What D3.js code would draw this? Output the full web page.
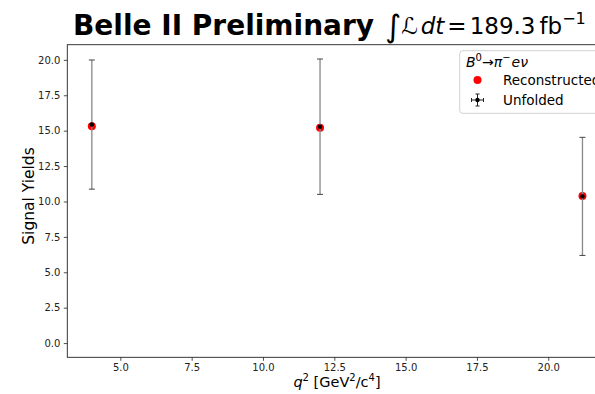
<!DOCTYPE html>
<html>
<head>
<meta charset="utf-8">
<script src="https://cdn.jsdelivr.net/npm/d3@7"></script>
<style>
  body { margin: 0; background: #fff; }
  svg { display: block; font-family: "DejaVu Sans", sans-serif; }
</style>
</head>
<body>
<svg id="chart" width="595" height="394"></svg>
<script>
// q^2 bin centres [GeV^2/c^4]
const q2Bins = [4.0, 12.0, 21.2];
// Reconstructed signal yields
const reconstructed = [15.31, 15.21, 10.38];
// Unfolded signal yields and their uncertainties
const unfolded = [15.43, 15.28, 10.36];
const unfoldedErr = [4.56, 4.78, 4.17];

const xTicks = [5.0, 7.5, 10.0, 12.5, 15.0, 17.5, 20.0];
const yTicks = [0.0, 2.5, 5.0, 7.5, 10.0, 12.5, 15.0, 17.5, 20.0];

const svg = d3.select("#chart");
const m = { left: 67.3, top: 44.7, right: 607, bottom: 357.3 };

const x = d3.scaleLinear().domain([3.14, 22.06]).range([m.left, m.right]);
const y = d3.scaleLinear().domain([-1.0035, 21.07]).range([m.bottom, m.top]);

// clip to the axes area
svg.append("defs").append("clipPath").attr("id", "plotclip")
  .append("rect").attr("x", m.left).attr("y", m.top)
  .attr("width", m.right - m.left).attr("height", m.bottom - m.top);

// axes
const xAxis = d3.axisBottom(x).tickValues(xTicks).tickFormat(d3.format(".1f"))
  .tickSizeOuter(0).tickSize(3.5).tickPadding(3.5);
const yAxis = d3.axisLeft(y).tickValues(yTicks).tickFormat(d3.format(".1f"))
  .tickSizeOuter(0).tickSize(3.5).tickPadding(3.5);

const gx = svg.append("g").attr("transform", `translate(0,${m.bottom})`).call(xAxis);
const gy = svg.append("g").attr("transform", `translate(${m.left},0)`).call(yAxis);
[gx, gy].forEach(g => {
  g.selectAll("text").attr("font-size", 10).attr("fill", "#222")
    .attr("font-family", "DejaVu Sans");
  g.selectAll("line").attr("stroke", "#222").attr("stroke-width", 0.8);
  g.select(".domain").remove();
});

// spines
svg.append("rect").attr("x", m.left).attr("y", m.top)
  .attr("width", m.right - m.left).attr("height", m.bottom - m.top)
  .attr("fill", "none").attr("stroke", "#222").attr("stroke-width", 0.9);

const plot = svg.append("g").attr("clip-path", "url(#plotclip)");

// reconstructed points
plot.selectAll("circle.reco").data(q2Bins).join("circle")
  .attr("class", "reco")
  .attr("cx", d => x(d)).attr("cy", (d, i) => y(reconstructed[i]))
  .attr("r", 4).attr("fill", "#ff0000");

// unfolded points with error bars
const eb = plot.selectAll("g.unf").data(q2Bins).join("g").attr("class", "unf");
eb.append("line")
  .attr("x1", d => x(d)).attr("x2", d => x(d))
  .attr("y1", (d, i) => y(unfolded[i] - unfoldedErr[i]))
  .attr("y2", (d, i) => y(unfolded[i] + unfoldedErr[i]))
  .attr("stroke", "#888").attr("stroke-width", 1.3);
[-1, 1].forEach(s => {
  eb.append("line")
    .attr("x1", d => x(d) - 3).attr("x2", d => x(d) + 3)
    .attr("y1", (d, i) => y(unfolded[i] + s * unfoldedErr[i]))
    .attr("y2", (d, i) => y(unfolded[i] + s * unfoldedErr[i]))
    .attr("stroke", "#444").attr("stroke-width", 1);
});
eb.append("circle")
  .attr("cx", d => x(d)).attr("cy", (d, i) => y(unfolded[i]))
  .attr("r", 2.2).attr("fill", "#000");

// title
svg.append("text").attr("x", 73).attr("y", 35).attr("fill", "#000")
  .attr("font-size", 28).attr("font-weight", "bold").text("Belle II Preliminary");
const math = svg.append("text").attr("x", 385).attr("y", 34).attr("fill", "#000")
  .attr("font-size", 23);
math.append("tspan").attr("font-size", 31).attr("dy", 3).text("\u222B");
math.append("tspan").attr("dy", -3).attr("font-style", "italic").text("\u2112");
math.append("tspan").attr("font-style", "italic").attr("dx", 3).text("dt");
math.append("tspan").attr("dx", 3).text("=");
math.append("tspan").attr("dx", 3).text("189.3");
math.append("tspan").attr("dx", 4).text("fb");
math.append("tspan").attr("font-size", 16).attr("dy", -10).text("\u22121");

// axis labels
const xl = svg.append("text").attr("x", 337).attr("y", 387).attr("text-anchor", "middle")
  .attr("font-size", 14.5).attr("fill", "#000");
xl.append("tspan").attr("font-style", "italic").text("q");
xl.append("tspan").attr("font-size", 10).attr("dy", -6).text("2");
xl.append("tspan").attr("dy", 6).text(" [GeV");
xl.append("tspan").attr("font-size", 10).attr("dy", -6).text("2");
xl.append("tspan").attr("dy", 6).text("/c");
xl.append("tspan").attr("font-size", 10).attr("dy", -6).text("4");
xl.append("tspan").attr("dy", 6).text("]");

svg.append("text").attr("transform", "translate(34,196) rotate(-90)")
  .attr("text-anchor", "middle").attr("font-size", 15.5).attr("fill", "#000")
  .text("Signal Yields");

// legend
const lg = svg.append("g");
lg.append("rect").attr("x", 459.7).attr("y", 50.7).attr("width", 160).attr("height", 62.6)
  .attr("rx", 3).attr("fill", "#fff").attr("fill-opacity", 0.8)
  .attr("stroke", "#d0d0d0").attr("stroke-width", 1);
const lt = lg.append("text").attr("x", 466).attr("y", 67).attr("font-size", 14).attr("fill", "#000");
lt.append("tspan").attr("font-style", "italic").text("B");
lt.append("tspan").attr("font-size", 10).attr("dy", -6).text("0");
lt.append("tspan").attr("dy", 6).text("\u2192");
lt.append("tspan").attr("font-style", "italic").text("\u03C0");
lt.append("tspan").attr("font-size", 10).attr("dy", -6).text("\u2212");
lt.append("tspan").attr("dy", 6).attr("font-style", "italic").attr("dx", 1).text("e\u03BD");

lg.append("circle").attr("cx", 477.5).attr("cy", 80).attr("r", 4).attr("fill", "#ff0000");
lg.append("text").attr("x", 503).attr("y", 85).attr("font-size", 13.5).attr("fill", "#000")
  .text("Reconstructed");

const lm = lg.append("g").attr("transform", "translate(477.5,100)");
lm.append("line").attr("x1", -6).attr("x2", 6).attr("stroke", "#222").attr("stroke-width", 1);
lm.append("line").attr("y1", -6).attr("y2", 6).attr("stroke", "#222").attr("stroke-width", 1);
[-6, 6].forEach(s => {
  lm.append("line").attr("x1", s).attr("x2", s).attr("y1", -2).attr("y2", 2).attr("stroke", "#222");
  lm.append("line").attr("y1", s).attr("y2", s).attr("x1", -2).attr("x2", 2).attr("stroke", "#222");
});
lm.append("circle").attr("r", 2.2).attr("fill", "#000");
lg.append("text").attr("x", 503).attr("y", 105).attr("font-size", 13.5).attr("fill", "#000")
  .text("Unfolded");
</script>
</body>
</html>
